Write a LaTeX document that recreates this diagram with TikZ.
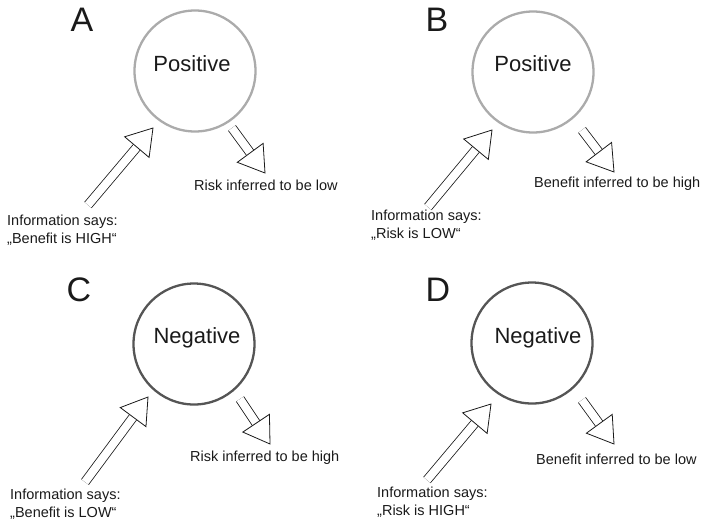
\documentclass[tikz,border=0pt]{standalone}
\usepackage{fontspec}
\setmainfont{Liberation Sans}
\usetikzlibrary{calc}
\definecolor{lightring}{HTML}{ABABAB}
\definecolor{darkring}{HTML}{555555}
\definecolor{ink}{HTML}{1A1A1A}
\tikzset{
  ring/.style={circle, draw=#1, line width=2.3pt, minimum size=121pt, inner sep=0pt},
  biglab/.style={font=\fontsize{34}{34}\selectfont, text=ink, inner sep=0pt},
  mood/.style={font=\fontsize{22}{22}\selectfont, text=ink, inner sep=0pt},
  small/.style={font=\fontsize{14.5}{17}\selectfont, text=ink, inner sep=0pt, anchor=base west},
  shaft/.style={draw=ink, line width=0.8pt, double=white, double distance=8pt},
  head/.style={draw=ink, line width=0.8pt, fill=white, line join=miter},
}
\newcommand{\hollowarrow}[3]{%
  \coordinate (#3b) at ($(#2)!25pt!(#1)$);
  \coordinate (#3l) at ($(#3b)!16pt!90:(#2)$);
  \coordinate (#3r) at ($(#3b)!16pt!-90:(#2)$);
  \draw[shaft] (#1) -- (#3b);
  \draw[head] (#2) -- (#3l) -- (#3r) -- cycle;
}
\begin{document}
\begin{tikzpicture}[x=1pt, y=-1pt]
\useasboundingbox (0,0) rectangle (708,523);
% Panel A
\node[biglab] (labA) at (82,20) {A};
\node[ring=lightring] (cA) at (195,71) {};
\node[mood] (tA) at (192,64) {Positive};
\coordinate (inAs) at (88,205); \coordinate (inAt) at (153,128);
\coordinate (outAs) at (232,128); \coordinate (outAt) at (265,173);
\hollowarrow{inAs}{inAt}{hAi}
\hollowarrow{outAs}{outAt}{hAo}
\node[small] (rA) at (194,190) {Risk inferred to be low};
\node[small] (iA1) at (7,225) {Information says:};
\node[small] (iA2) at (7,243) {„Benefit is HIGH“};
% Panel B
\node[biglab] (labB) at (437,20) {B};
\node[ring=lightring] (cB) at (533,72) {};
\node[mood] (tB) at (533,64) {Positive};
\coordinate (inBs) at (428,207); \coordinate (inBt) at (492,130);
\coordinate (outBs) at (582,130); \coordinate (outBt) at (614,172);
\hollowarrow{inBs}{inBt}{hBi}
\hollowarrow{outBs}{outBt}{hBo}
\node[small] (rB) at (534,187) {Benefit inferred to be high};
\node[small] (iB1) at (371,220) {Information says:};
\node[small] (iB2) at (371,238) {„Risk is LOW“};
% Panel C
\node[biglab] (labC) at (79,290) {C};
\node[ring=darkring] (cC) at (194,344) {};
\node[mood] (tC) at (197,338) {Negative};
\coordinate (inCs) at (85,482); \coordinate (inCt) at (148,397);
\coordinate (outCs) at (240,399); \coordinate (outCt) at (270,444);
\hollowarrow{inCs}{inCt}{hCi}
\hollowarrow{outCs}{outCt}{hCo}
\node[small] (rC) at (190,461) {Risk inferred to be high};
\node[small] (iC1) at (10,499) {Information says:};
\node[small] (iC2) at (10,517) {„Benefit is LOW“};
% Panel D
\node[biglab] (labD) at (438,290) {D};
\node[ring=darkring] (cD) at (532,343) {};
\node[mood] (tD) at (538,338) {Negative};
\coordinate (inDs) at (427,480); \coordinate (inDt) at (491,404);
\coordinate (outDs) at (582,400); \coordinate (outDt) at (614,444);
\hollowarrow{inDs}{inDt}{hDi}
\hollowarrow{outDs}{outDt}{hDo}
\node[small] (rD) at (536,464) {Benefit inferred to be low};
\node[small] (iD1) at (377,497) {Information says:};
\node[small] (iD2) at (377,515) {„Risk is HIGH“};
\end{tikzpicture}
\end{document}
